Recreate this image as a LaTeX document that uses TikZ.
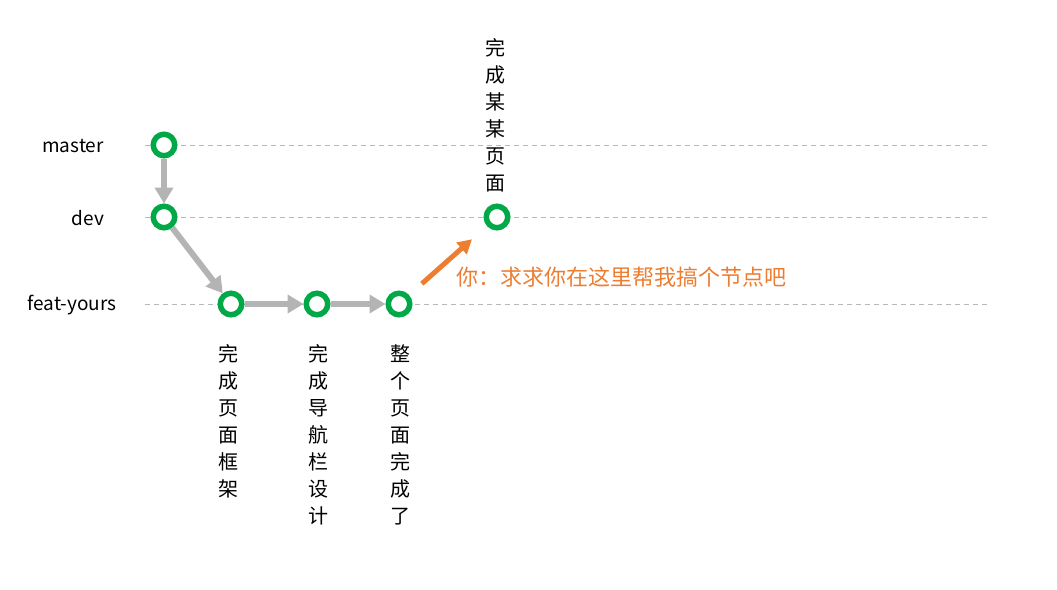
\documentclass[tikz,border=0pt]{standalone}
\usepackage{fontspec}
\setmainfont{Noto Sans CJK SC}
\usetikzlibrary{arrows.meta, positioning}
\definecolor{commitgreen}{RGB}{0,168,72}
\definecolor{linkgray}{RGB}{180,180,180}
\definecolor{hintorange}{RGB}{237,125,49}
\tikzset{
  commit/.style={circle, draw=commitgreen, line width=5.5pt, fill=white, minimum size=21.5pt, inner sep=0pt},
  branchlabel/.style={font=\fontsize{19}{22}\selectfont},
  msglabel/.style={align=center, inner sep=0pt, font=\fontsize{20}{27}\selectfont},
  link/.style={-{Triangle[width=18pt, length=16pt]}, linkgray, line width=6pt},
  lane/.style={dashed, dash pattern=on 5pt off 4pt, black!28, line width=0.8pt}
}
\begin{document}
\begin{tikzpicture}[x=1pt, y=-1pt]
  \useasboundingbox (0,0) rectangle (1057,589);
  % Branch lanes
  \foreach \y in {145,217,304}{
    \draw[lane] (145,\y) -- (988,\y);
  }
  \node[branchlabel] (lmaster) at (73,146) {master};
  \node[branchlabel] (ldev) at (88,218) {dev};
  \node[branchlabel] (lfeat) at (72,305) {feat-yours};
  % Commits
  \node[commit] (m)  at (164,145) {};
  \node[commit] (d)  at (164,217) {};
  \node[commit] (f1) at (231,304) {};
  \node[commit] (f2) at (317,304) {};
  \node[commit] (f3) at (399,304) {};
  \node[commit] (t)  at (497,217) {};
  % History
  \draw[link] (m) -- (d);
  \draw[link] (d) -- (f1);
  \draw[link] (f1) -- (f2);
  \draw[link] (f2) -- (f3);
  % Hint
  \draw[-{Triangle[width=15pt, length=14pt]}, hintorange, line width=5pt, shorten <=17pt, shorten >=20pt] (f3) -- (t);
  \node[hintorange, anchor=west, inner sep=0pt, font=\fontsize{22}{24}\selectfont] (hint) at (456,277) {你：求求你在这里帮我搞个节点吧};
  % Commit messages
  \node[msglabel, anchor=north] (msg1) at (228,344) {完\\成\\页\\面\\框\\架};
  \node[msglabel, anchor=north] (msg2) at (318,344) {完\\成\\导\\航\\栏\\设\\计};
  \node[msglabel, anchor=north] (msg3) at (400,344) {整\\个\\页\\面\\完\\成\\了};
  \node[msglabel, anchor=south] (msg4) at (495,192) {完\\成\\某\\某\\页\\面};
\end{tikzpicture}
\end{document}
